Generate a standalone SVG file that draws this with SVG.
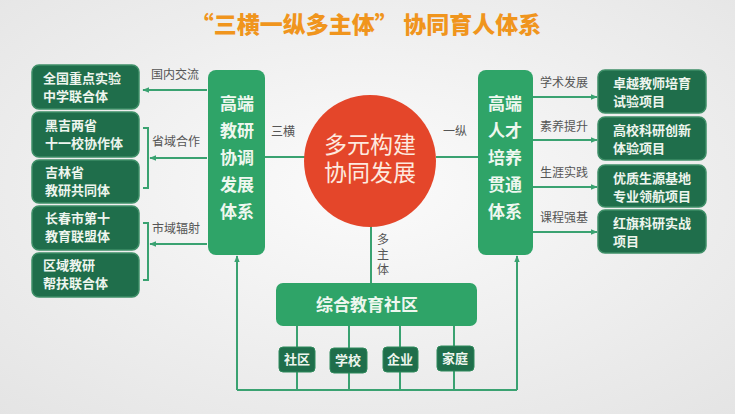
<svg xmlns="http://www.w3.org/2000/svg" width="735" height="414" viewBox="0 0 735 414">
<defs>
<radialGradient id="bg" cx="50%" cy="45%" r="75%">
<stop offset="0" stop-color="#fbfbfb"/>
<stop offset="1" stop-color="#e4e4e4"/>
</radialGradient>
<marker id="ah" viewBox="0 0 10 10" refX="9" refY="5" markerWidth="7" markerHeight="7" orient="auto-start-reverse" markerUnits="userSpaceOnUse">
<path d="M0,1 L10,5 L0,9 Z" fill="#3aa271"/>
</marker>
<style>
.dk{fill:#1f6e4b;stroke:#3f8f68;stroke-width:1.5}
.md{fill:#2fa468}
.sm{fill:#1f6e4b;stroke:#2f8a5c;stroke-width:1}
.bt{font-family:"Liberation Serif","Noto Sans CJK SC",serif;font-weight:bold;fill:#eef5ee;font-size:13px}
.tt{font-family:"Liberation Serif","Noto Sans CJK SC",serif;font-weight:bold;fill:#eef7ef;font-size:17px;text-anchor:middle}
.lb{font-family:"Liberation Serif","Noto Sans CJK SC",serif;fill:#555;font-size:12px}
.ln{stroke:#3aa271;stroke-width:2;fill:none}
</style>
</defs>
<rect width="735" height="414" fill="url(#bg)"/>
<text x="366" y="33" text-anchor="middle" font-family="'Noto Sans CJK SC',sans-serif" font-weight="900" font-size="23" fill="#f0951d">“三横一纵多主体” 协同育人体系</text>

<g id="connectors">
<line class="ln" x1="207" y1="90" x2="143" y2="90" marker-end="url(#ah)"/>
<line class="ln" x1="207" y1="158" x2="150" y2="158" marker-end="url(#ah)"/>
<line class="ln" x1="207" y1="244" x2="150" y2="244" marker-end="url(#ah)"/>
<path class="ln" d="M143,128 H148 V188 H143"/>
<path class="ln" d="M143,223 H148 V280 H143"/>
<line class="ln" x1="265" y1="157" x2="305" y2="157"/>
<line class="ln" x1="436" y1="157" x2="478" y2="157"/>
<line class="ln" x1="371" y1="226" x2="371" y2="283"/>
<line class="ln" x1="533" y1="97" x2="597" y2="97" marker-end="url(#ah)"/>
<line class="ln" x1="533" y1="140" x2="597" y2="140" marker-end="url(#ah)"/>
<line class="ln" x1="533" y1="187" x2="597" y2="187" marker-end="url(#ah)"/>
<line class="ln" x1="533" y1="232" x2="597" y2="232" marker-end="url(#ah)"/>
<line class="ln" x1="297" y1="326" x2="297" y2="390"/>
<line class="ln" x1="349" y1="326" x2="349" y2="390"/>
<line class="ln" x1="400" y1="326" x2="400" y2="390"/>
<line class="ln" x1="454" y1="326" x2="454" y2="390"/>
<path class="ln" d="M237,390 H517"/>
<line class="ln" x1="237" y1="390" x2="237" y2="256" marker-end="url(#ah)"/>
<line class="ln" x1="517" y1="390" x2="517" y2="256" marker-end="url(#ah)"/>
<text class="lb" x="151" y="79">国内交流</text>
<text class="lb" x="152" y="146">省域合作</text>
<text class="lb" x="152" y="233">市域辐射</text>
<text class="lb" x="271" y="136">三横</text>
<text class="lb" x="443" y="136">一纵</text>
<text class="lb" x="377" y="244">多</text>
<text class="lb" x="377" y="259">主</text>
<text class="lb" x="377" y="274">体</text>
<text class="lb" x="540" y="87">学术发展</text>
<text class="lb" x="540" y="131">素养提升</text>
<text class="lb" x="540" y="177">生涯实践</text>
<text class="lb" x="540" y="222">课程强基</text>
</g>

<g id="l1"><rect class="dk" x="32" y="65" width="107" height="44" rx="7"/><text class="bt" x="43" y="83">全国重点实验</text><text class="bt" x="43" y="101">中学联合体</text></g>
<g id="l2"><rect class="dk" x="32" y="112" width="107" height="45" rx="7"/><text class="bt" x="45" y="130">黑吉两省</text><text class="bt" x="45" y="148">十一校协作体</text></g>
<g id="l3"><rect class="dk" x="32" y="160" width="107" height="43" rx="7"/><text class="bt" x="45" y="177">吉林省</text><text class="bt" x="45" y="195">教研共同体</text></g>
<g id="l4"><rect class="dk" x="32" y="206" width="107" height="44" rx="7"/><text class="bt" x="45" y="223">长春市第十</text><text class="bt" x="45" y="241">教育联盟体</text></g>
<g id="l5"><rect class="dk" x="32" y="253" width="107" height="44" rx="7"/><text class="bt" x="43" y="270">区域教研</text><text class="bt" x="43" y="288">帮扶联合体</text></g>

<g id="leftsys"><rect class="md" x="208" y="70" width="57" height="185" rx="8"/>
<text class="tt" x="237" y="110">高端</text><text class="tt" x="237" y="137">教研</text><text class="tt" x="237" y="164">协调</text><text class="tt" x="237" y="191">发展</text><text class="tt" x="237" y="218">体系</text></g>

<g id="center"><circle cx="370" cy="161" r="66" fill="#e4462a"/>
<text x="370" y="153" text-anchor="middle" font-family="'Liberation Serif','Noto Sans CJK SC',serif" font-size="23" fill="#fde9df">多元构建</text>
<text x="370" y="181" text-anchor="middle" font-family="'Liberation Serif','Noto Sans CJK SC',serif" font-size="23" fill="#fde9df">协同发展</text></g>

<g id="rightsys"><rect class="md" x="478" y="70" width="55" height="185" rx="8"/>
<text class="tt" x="505" y="110">高端</text><text class="tt" x="505" y="137">人才</text><text class="tt" x="505" y="164">培养</text><text class="tt" x="505" y="191">贯通</text><text class="tt" x="505" y="218">体系</text></g>

<g id="r1"><rect class="dk" x="598" y="70" width="108" height="43" rx="7"/><text class="bt" x="613" y="88">卓越教师培育</text><text class="bt" x="613" y="106">试验项目</text></g>
<g id="r2"><rect class="dk" x="598" y="117" width="108" height="43" rx="7"/><text class="bt" x="613" y="135">高校科研创新</text><text class="bt" x="613" y="153">体验项目</text></g>
<g id="r3"><rect class="dk" x="598" y="165" width="108" height="42" rx="7"/><text class="bt" x="613" y="183">优质生源基地</text><text class="bt" x="613" y="201">专业领航项目</text></g>
<g id="r4"><rect class="dk" x="598" y="210" width="108" height="43" rx="7"/><text class="bt" x="613" y="228">红旗科研实战</text><text class="bt" x="613" y="246">项目</text></g>

<g id="community"><rect class="md" x="276" y="283" width="201" height="43" rx="7"/>
<text x="367" y="311" text-anchor="middle" font-family="'Liberation Serif','Noto Sans CJK SC',serif" font-weight="bold" font-size="17" fill="#eef7ef">综合教育社区</text></g>
<g id="c1"><rect class="sm" x="279" y="347" width="36" height="25" rx="4"/><text class="bt" x="297" y="364" text-anchor="middle">社区</text></g>
<g id="c2"><rect class="sm" x="330" y="348" width="37" height="25" rx="4"/><text class="bt" x="348" y="365" text-anchor="middle">学校</text></g>
<g id="c3"><rect class="sm" x="383" y="347" width="35" height="25" rx="4"/><text class="bt" x="400" y="364" text-anchor="middle">企业</text></g>
<g id="c4"><rect class="sm" x="437" y="346" width="37" height="25" rx="4"/><text class="bt" x="455" y="363" text-anchor="middle">家庭</text></g>
</svg>
